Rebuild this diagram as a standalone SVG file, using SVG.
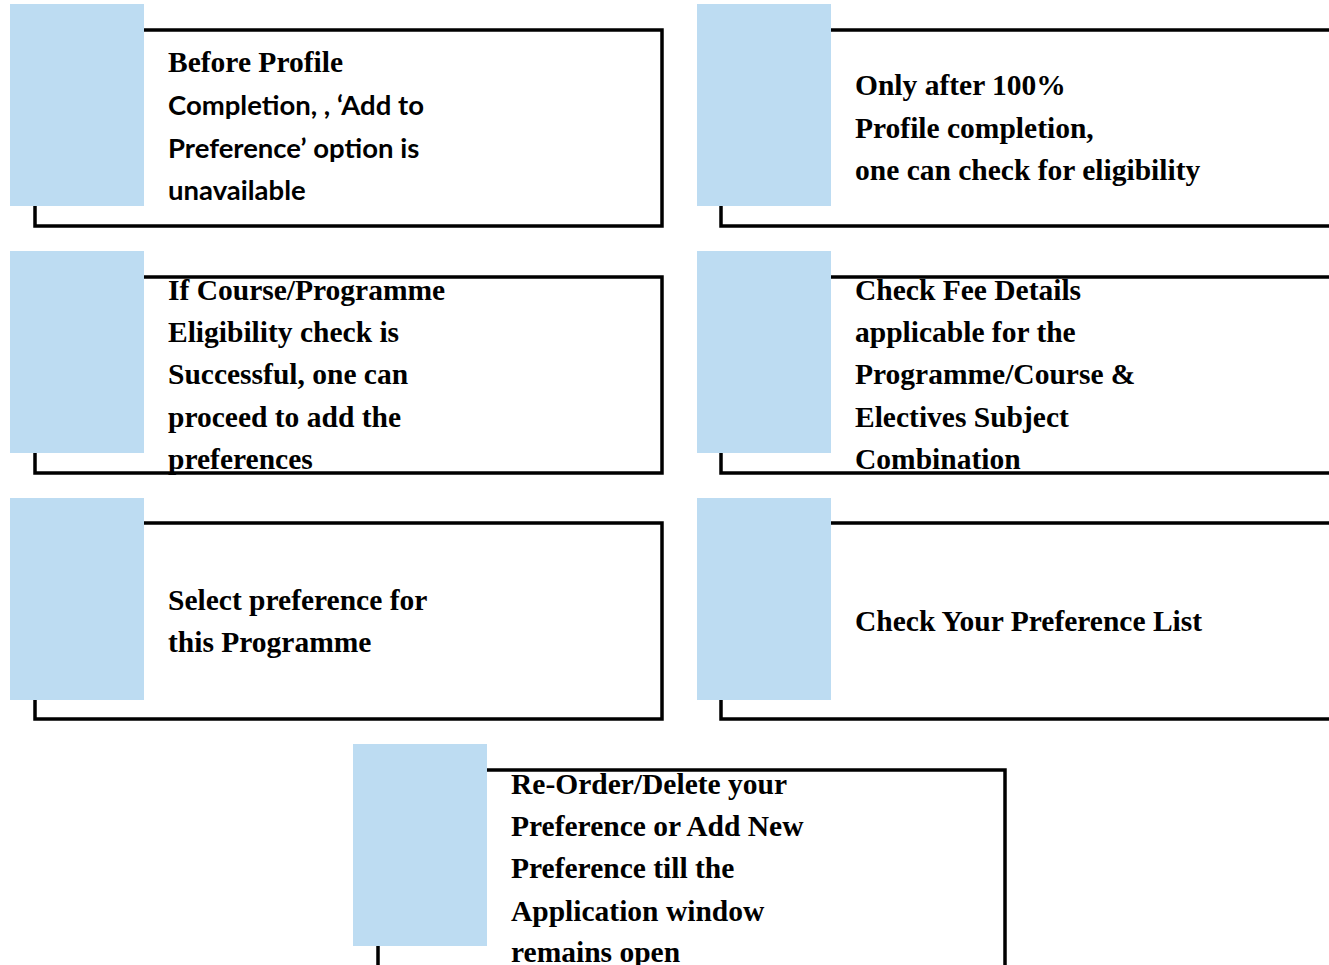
<svg xmlns="http://www.w3.org/2000/svg" width="1329" height="965" viewBox="0 0 1329 965">
<style>
.frame{fill:none;stroke:#000;stroke-width:3.5}
.tab{fill:#BDDCF2}
.s{font-family:"Liberation Serif","Times New Roman",serif;font-weight:bold;font-size:29.5px;fill:#000}
.c{font-family:Lato,"Liberation Sans",sans-serif;font-weight:bold;font-size:27.5px;fill:#000}
</style>
<rect width="1329" height="965" fill="#fff"/>
<g id="n1">
<rect class="frame" x="35" y="30" width="627" height="196"/>
<rect class="tab" x="10" y="4" width="134" height="202"/>
<text class="s" x="168" y="72">Before Profile</text>
<text class="c" x="168" y="115">Completion, , ‘Add to</text>
<text class="c" x="168" y="158">Preference’ option is</text>
<text class="c" x="168" y="200">unavailable</text>
</g>
<g id="n2">
<rect class="frame" x="721" y="30" width="640" height="196"/>
<rect class="tab" x="697" y="4" width="134" height="202"/>
<text class="s" x="855" y="95">Only after 100%</text>
<text class="s" x="855" y="138">Profile completion,</text>
<text class="s" x="855" y="180">one can check for eligibility</text>
</g>
<g id="n3">
<rect class="frame" x="35" y="277" width="627" height="196"/>
<rect class="tab" x="10" y="251" width="134" height="202"/>
<text class="s" x="168" y="300">If Course/Programme</text>
<text class="s" x="168" y="342">Eligibility check is</text>
<text class="s" x="168" y="384">Successful, one can</text>
<text class="s" x="168" y="427">proceed to add the</text>
<text class="s" x="168" y="469">preferences</text>
</g>
<g id="n4">
<rect class="frame" x="721" y="277" width="640" height="196"/>
<rect class="tab" x="697" y="251" width="134" height="202"/>
<text class="s" x="855" y="300">Check Fee Details</text>
<text class="s" x="855" y="342">applicable for the</text>
<text class="s" x="855" y="384">Programme/Course &amp;</text>
<text class="s" x="855" y="427">Electives Subject</text>
<text class="s" x="855" y="469">Combination</text>
</g>
<g id="n5">
<rect class="frame" x="35" y="523" width="627" height="196"/>
<rect class="tab" x="10" y="498" width="134" height="202"/>
<text class="s" x="168" y="610">Select preference for</text>
<text class="s" x="168" y="652">this Programme</text>
</g>
<g id="n6">
<rect class="frame" x="721" y="523" width="640" height="196"/>
<rect class="tab" x="697" y="498" width="134" height="202"/>
<text class="s" x="855" y="631">Check Your Preference List</text>
</g>
<g id="n7">
<rect class="frame" x="378" y="770" width="627" height="240"/>
<rect class="tab" x="353" y="744" width="134" height="202"/>
<text class="s" x="511" y="794">Re-Order/Delete your</text>
<text class="s" x="511" y="836">Preference or Add New</text>
<text class="s" x="511" y="878">Preference till the</text>
<text class="s" x="511" y="921">Application window</text>
<text class="s" x="511" y="962">remains open</text>
</g>
<g id="connectors"/>
</svg>
